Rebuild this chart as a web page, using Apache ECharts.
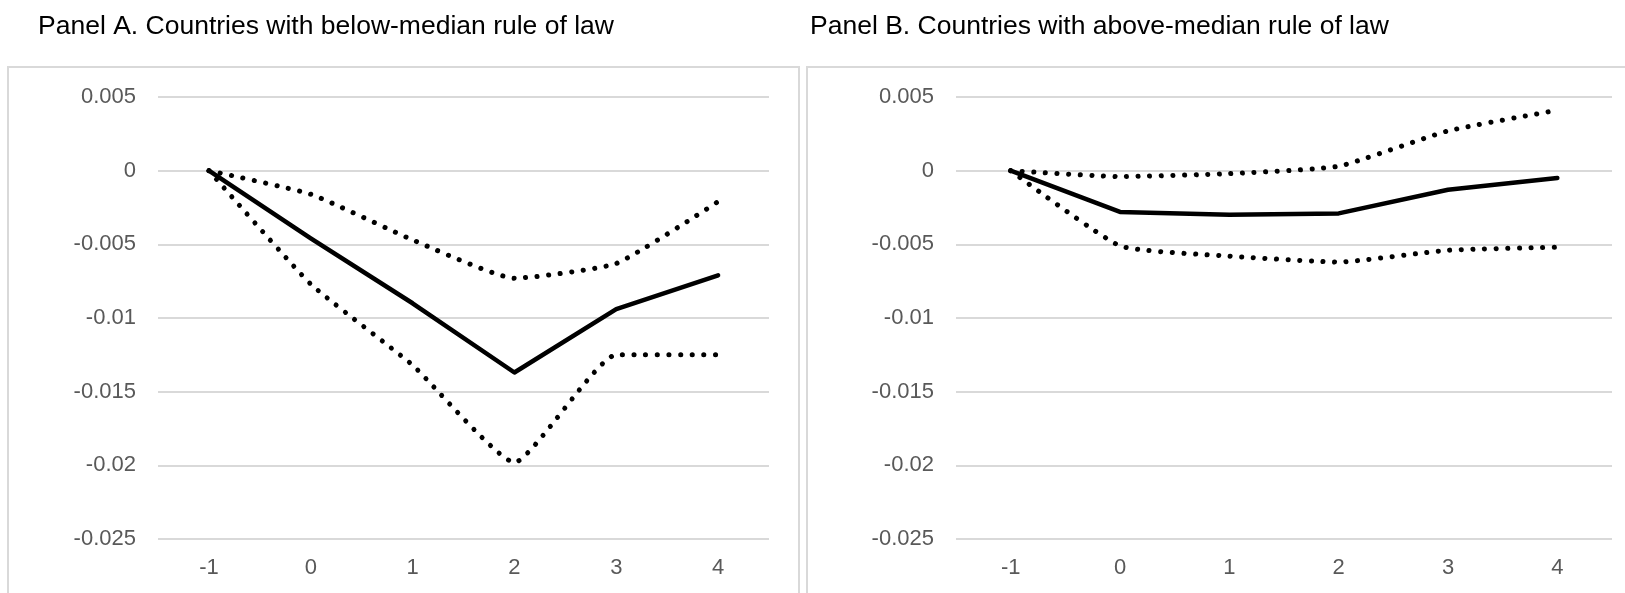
<!DOCTYPE html>
<html>
<head>
<meta charset="utf-8">
<script src="https://cdn.jsdelivr.net/npm/echarts@6/dist/echarts.min.js"></script>
<style>
html,body{margin:0;padding:0;background:#fff;}
#chart{width:1625px;height:593px;}
</style>
</head>
<body>
<div id="chart"></div>
<script>
// ---- data ----
const categories = ['-1', '0', '1', '2', '3', '4'];
const titleA = 'Panel A. Countries with below-median rule of law';
const titleB = 'Panel B. Countries with above-median rule of law';

const panelA_estimate = [0, -0.0046, -0.0090, -0.0137, -0.0094, -0.0071];
const panelA_upper    = [0, -0.0016, -0.0047, -0.0073, -0.0063, -0.0021];
const panelA_lower    = [0, -0.0077, -0.0132, -0.0198, -0.0125, -0.0125];

const panelB_estimate = [0, -0.0028, -0.0030, -0.0029, -0.0013, -0.0005];
const panelB_upper    = [0, -0.0004, -0.0002, 0.0003, 0.0027, 0.0041];
const panelB_lower    = [0, -0.0051, -0.0058, -0.0062, -0.0054, -0.0052];

const yMin = -0.025, yMax = 0.005, yStep = 0.005;

// ---- chart ----
const FONT = 'Liberation Sans, Arial, sans-serif';
const chart = echarts.init(document.getElementById('chart'));

function yAxis(gi) {
  return {
    type: 'value', gridIndex: gi, min: yMin, max: yMax, interval: yStep,
    axisLine: {show: false}, axisTick: {show: false},
    splitLine: {lineStyle: {color: '#d9d9d9', width: 2}},
    axisLabel: {
      color: '#595959', fontSize: 22, fontFamily: FONT, margin: 22,
      formatter: v => String(Number(v.toFixed(4)))
    }
  };
}
function xAxis(gi) {
  return {
    type: 'category', gridIndex: gi, data: categories, boundaryGap: true,
    axisLine: {show: false}, axisTick: {show: false},
    axisLabel: {color: '#595959', fontSize: 22, fontFamily: FONT, margin: 18}
  };
}
function solid(data, i) {
  return {type: 'line', xAxisIndex: i, yAxisIndex: i, data: data, symbol: 'none',
    lineStyle: {color: '#000', width: 4.5, cap: 'round', join: 'round'}, z: 3, silent: true};
}
function dotted(data, i) {
  return {type: 'line', xAxisIndex: i, yAxisIndex: i, data: data, symbol: 'none', smooth: 0.15,
    lineStyle: {color: '#000', width: 5, type: [0.1, 11.5], cap: 'round', join: 'round'}, z: 2, silent: true};
}

chart.setOption({
  animation: false,
  backgroundColor: '#fff',
  title: [
    {text: titleA, left: 33, top: 8, textStyle: {fontSize: 26.5, fontWeight: 'normal', color: '#000', fontFamily: FONT}},
    {text: titleB, left: 805, top: 8, textStyle: {fontSize: 26.5, fontWeight: 'normal', color: '#000', fontFamily: FONT}}
  ],
  graphic: [
    {type: 'rect', shape: {x: 8, y: 67, width: 791, height: 600}, style: {fill: 'none', stroke: '#d9d9d9', lineWidth: 2}, silent: true},
    {type: 'rect', shape: {x: 807, y: 67, width: 830, height: 600}, style: {fill: 'none', stroke: '#d9d9d9', lineWidth: 2}, silent: true}
  ],
  grid: [
    {left: 158, top: 97, width: 611, height: 442},
    {left: 956, top: 97, width: 656, height: 442}
  ],
  xAxis: [xAxis(0), xAxis(1)],
  yAxis: [yAxis(0), yAxis(1)],
  series: [
    dotted(panelA_upper, 0), dotted(panelA_lower, 0), solid(panelA_estimate, 0),
    dotted(panelB_upper, 1), dotted(panelB_lower, 1), solid(panelB_estimate, 1)
  ]
});
</script>
</body>
</html>
